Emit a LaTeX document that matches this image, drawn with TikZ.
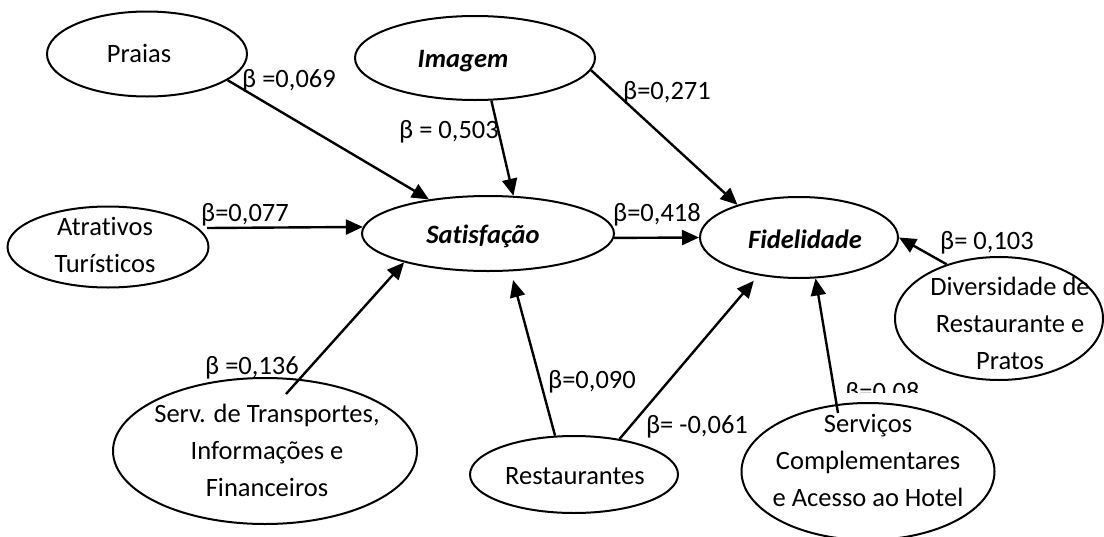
\documentclass[tikz,border=0pt]{standalone}
\usepackage{fontspec}
\setmainfont{Carlito}[Ligatures={NoCommon}]
\usetikzlibrary{shapes.geometric,arrows.meta}
\begin{document}
\begin{tikzpicture}[x=0.5pt,y=-0.5pt,
  ell/.style={draw, line width=1pt, ellipse, inner sep=0pt, fill=white},
  txt/.style={inner sep=0pt, align=center, font=\fontsize{13.25}{18.5}\selectfont},
  bti/.style={inner sep=0pt, font=\fontsize{13.25}{18.5}\selectfont\bfseries\itshape},
  lbl/.style={inner sep=0pt, font=\fontsize{13.25}{18.5}\selectfont},
  arr/.style={line width=1.2pt, -{Triangle[length=8.5pt,width=7.5pt]}}
]
\useasboundingbox (0,0) rectangle (1104,536);
\clip (0,0) rectangle (1104,536);

% ellipses
\node[ell, minimum width=100pt, minimum height=42.5pt] (praias) at (147,54) {};
\node[ell, minimum width=120pt, minimum height=42pt] (imagem) at (475,58) {};
\node[ell, minimum width=100.5pt, minimum height=40.5pt] (atr) at (108,247) {};
\node[ell, minimum width=126pt, minimum height=37.5pt] (sat) at (488,233.5) {};
\node[ell, minimum width=99pt, minimum height=40.5pt] (fid) at (799,237.5) {};
\node[ell, minimum width=104pt, minimum height=61.5pt] (div) at (999,318.5) {};
\node[ell, minimum width=152pt, minimum height=73pt] (serv) at (265,451) {};
\node[ell, minimum width=104pt, minimum height=38.5pt] (rest) at (574,474.5) {};
\node[ell, minimum width=126.5pt, minimum height=68.5pt] (comp) at (868,471.5) {};

% texts
\node[txt] (tpraias) at (139,53) {Praias};
\node[bti] (timagem) at (463,61) {Imagem};
\node[txt] (tatr) at (105,245) {Atrativos\\Turísticos};
\node[bti] (tsat) at (483,236) {Satisfação};
\node[bti] (tfid) at (805,239) {Fidelidade};
\node[txt] (tdiv) at (1010,323) {Diversidade de\\Restaurante e\\Pratos};
\node[txt] (tserv) at (267,450) {Serv. de Transportes,\\Informações e\\Financeiros};
\node[txt] (trest) at (575,476) {Restaurantes};
\node[txt] (tcomp) at (868,460) {Serviços\\Complementares\\e Acesso ao Hotel};

% free ends
\coordinate (atrOut) at (207,228);
\coordinate (servOut) at (286,394);
\coordinate (compOut) at (838,413);

% connectors
\draw[arr] (praias.-18.4) -- (sat.150);
\draw[arr] (imagem.-69) -- (sat.56);
\draw[arr] (atrOut) -- (sat.177);
\draw[arr] (imagem.-6) -- (fid.152);
\draw[arr] (sat.-2) -- (fid.west);
\draw[arr] (div.134.5) -- (fid.east);
\draw[arr] (servOut) -- (sat.199.4);
\draw[arr, shorten >=4.5pt] (rest.116.6) -- (sat.-59);
\draw[arr, shorten >=3.5pt] (rest.38) -- (fid.223);
\draw[arr] (compOut) -- (fid.-68);

% labels
\node[lbl] (l069) at (289,81) {β =0,069};
\node[lbl] (l503) at (449,132) {β = 0,503};
\node[lbl] (l077) at (245,215) {β=0,077};
\node[lbl] (l271) at (667,93) {β=0,271};
\node[lbl] (l418) at (657,215) {β=0,418};
\node[lbl] (l103) at (987,243) {β= 0,103};
\node[lbl] (l136) at (252,368) {β =0,136};
\node[lbl] (l090) at (592,382) {β=0,090};
\node[lbl] (l061) at (697,427) {β= -0,061};
\begin{scope}
\clip (840,370) rectangle (930,392);
\node[lbl, anchor=base west] (l08) at (845,400) {β=0,08};
\end{scope}
\end{tikzpicture}
\end{document}
